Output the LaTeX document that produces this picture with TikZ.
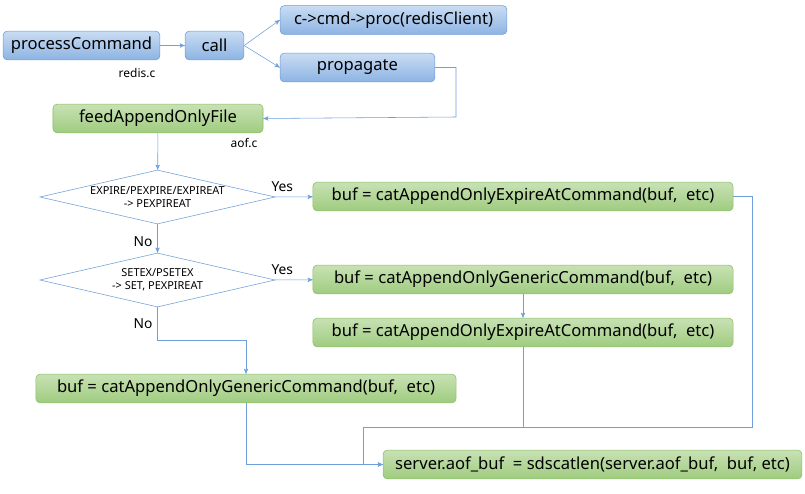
\documentclass[tikz,border=0pt]{standalone}
\usepackage{fontspec}
\setmainfont{Noto Sans}
\usetikzlibrary{positioning,shapes.geometric,arrows}
\definecolor{lineblue}{HTML}{6FA0DC}
\definecolor{bluetop}{HTML}{C9DCF3}
\definecolor{bluebot}{HTML}{8DB4E3}
\definecolor{blueedge}{HTML}{6E9CD4}
\definecolor{greentop}{HTML}{C8E2B4}
\definecolor{greenbot}{HTML}{9FCB7F}
\definecolor{greenedge}{HTML}{8ABD66}
\tikzstyle{bluebox} = [rectangle, rounded corners=3pt, minimum height=0.72cm, text centered, draw=blueedge, top color=bluetop, bottom color=bluebot, font=\fontsize{11.8}{13}\selectfont]
\tikzstyle{greenbox} = [rectangle, rounded corners=3pt, minimum height=0.72cm, text centered, draw=greenedge, top color=greentop, bottom color=greenbot, font=\fontsize{11.8}{13}\selectfont]
\tikzstyle{decision} = [diamond, aspect=4.35, inner sep=0pt, minimum width=5.88cm, minimum height=1.35cm, draw=lineblue, fill=white, align=center, font=\fontsize{7.8}{9.5}\selectfont]
\tikzstyle{arrow} = [lineblue, thin, ->, >=stealth']
\tikzstyle{note} = [font=\fontsize{8.5}{10}\selectfont]
\tikzstyle{answer} = [text=black, font=\fontsize{9.8}{11}\selectfont]

\begin{document}
\begin{tikzpicture}[x=0.025cm, y=-0.025cm]
\useasboundingbox (0,0) rectangle (805,494);

\node (pc) [bluebox, minimum width=3.92cm] at (81.5,45.5) {processCommand};
\node (call) [bluebox, minimum width=1.47cm] at (214.5,45.5) {call};
\node (proc) [bluebox, minimum width=5.67cm] at (393.5,20) {c->cmd->proc(redisClient)};
\node (prop) [bluebox, minimum width=3.87cm] at (357.5,67.5) {propagate};
\node [note] at (137,73) {redis.c};

\node (feed) [greenbox, minimum width=5.25cm] at (158,118.5) {feedAppendOnlyFile};
\node [note] at (244,143) {aof.c};

\node (dec1) [decision] at (157.5,197) {EXPIRE/PEXPIRE/EXPIREAT\\-> PEXPIREAT};
\node (dec2) [decision] at (157.5,280) {SETEX/PSETEX\\-> SET, PEXPIREAT};

\node (exp1) [greenbox, minimum width=10.5cm] at (523,196.5) {buf = catAppendOnlyExpireAtCommand(buf,~ etc)};
\node (gen1) [greenbox, minimum width=10.5cm] at (523,279.5) {buf = catAppendOnlyGenericCommand(buf,~ etc)};
\node (exp2) [greenbox, minimum width=10.5cm] at (523,332.5) {buf = catAppendOnlyExpireAtCommand(buf,~ etc)};
\node (gen2) [greenbox, minimum width=10.5cm] at (246,388.5) {buf = catAppendOnlyGenericCommand(buf,~ etc)};
\node (srv) [greenbox, minimum width=10.47cm] at (592.5,464.5) {server.aof\_buf ~= sdscatlen(server.aof\_buf,~ buf, etc)};

\coordinate (join) at (363,427);

\draw [arrow] (pc) -- (call);
\draw [arrow] (call.east) -- (proc.west);
\draw [arrow] (call.east) -- (prop.west);
\draw [arrow] (prop.east) -| (456,117) -- (feed.east);
\draw [arrow] (feed) -- (dec1);
\draw [arrow] (dec1) -- node[above, pos=0.2, answer] {Yes} (exp1);
\draw [arrow] (dec1) -- node[left, pos=0.6, answer] {No} (dec2);
\draw [arrow] (dec2) -- node[above, pos=0.2, answer] {Yes} (gen1);
\draw [arrow] (gen1) -- (exp2);
\draw [arrow] (dec2.south) -- node[left, pos=0.5, answer] {No} (157.5,340) -| (gen2.north);
\draw [arrow] (gen2.south) |- (srv.west);
\draw [lineblue] (exp1.east) -| (752,427) -- (join);
\draw [lineblue] (exp2.south) |- (join);
\draw [arrow] (join) |- (srv.west);
\end{tikzpicture}
\end{document}
